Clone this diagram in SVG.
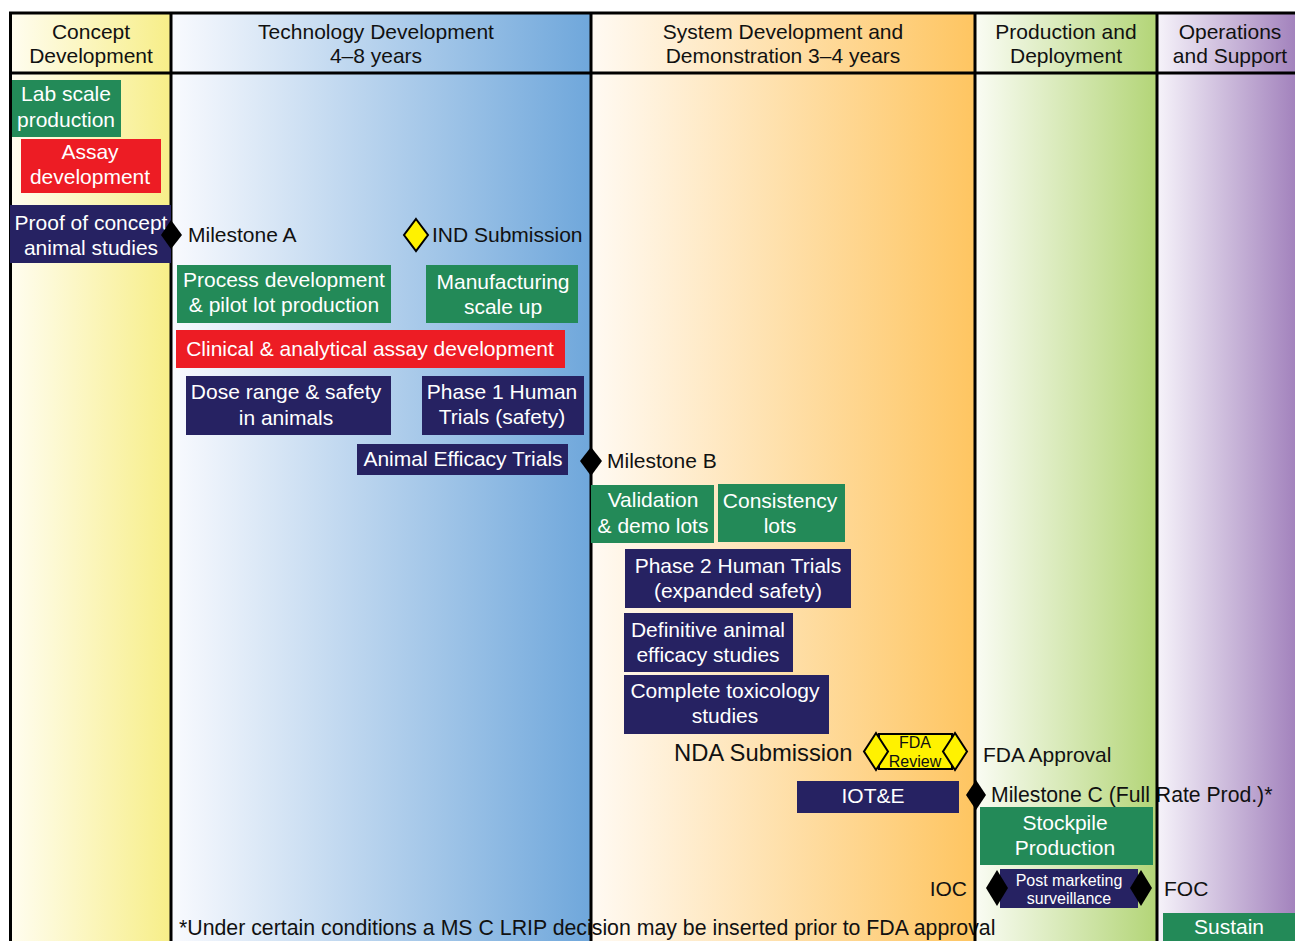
<svg xmlns="http://www.w3.org/2000/svg" width="1295" height="941" viewBox="0 0 1295 941">
<defs>
<linearGradient id="gC" x1="0" y1="0" x2="1" y2="0"><stop offset="0" stop-color="#fffdf0"/><stop offset="1" stop-color="#f7ee88"/></linearGradient>
<linearGradient id="gT" x1="0" y1="0" x2="1" y2="0"><stop offset="0" stop-color="#f9fafe"/><stop offset="1" stop-color="#6fa7db"/></linearGradient>
<linearGradient id="gS" x1="0" y1="0" x2="1" y2="0"><stop offset="0" stop-color="#fffaf3"/><stop offset="1" stop-color="#fec561"/></linearGradient>
<linearGradient id="gP" x1="0" y1="0" x2="1" y2="0"><stop offset="0" stop-color="#fafcf4"/><stop offset="1" stop-color="#b3d577"/></linearGradient>
<linearGradient id="gO" x1="0" y1="0" x2="1" y2="0"><stop offset="0" stop-color="#f6f3fa"/><stop offset="1" stop-color="#a383bd"/></linearGradient>
</defs>
<style>
text{font-family:"Liberation Sans",Arial,sans-serif;font-size:21px;fill:#111}
.c{text-anchor:middle}
.w{fill:#fff}
.g{fill:#238a58}
.r{fill:#ed1c24}
.n{fill:#262262}
.line{stroke:#000;stroke-width:3;fill:none}
.dk{fill:#000}
.dy{fill:#fff200;stroke:#000;stroke-width:2}
.sm{font-size:16px}
</style>
<g id="columns">
<rect x="10" y="12" width="161" height="929" fill="url(#gC)"/>
<rect x="171" y="12" width="420" height="929" fill="url(#gT)"/>
<rect x="591" y="12" width="384" height="929" fill="url(#gS)"/>
<rect x="975" y="12" width="182" height="929" fill="url(#gP)"/>
<rect x="1157" y="12" width="138" height="929" fill="url(#gO)"/>
</g>
<g id="headers">
<text class="c" x="91" y="39">Concept</text><text class="c" x="91" y="63">Development</text>
<text class="c" x="376" y="39">Technology Development</text><text class="c" x="376" y="63">4–8 years</text>
<text class="c" x="783" y="39">System Development and</text><text class="c" x="783" y="63">Demonstration 3–4 years</text>
<text class="c" x="1066" y="39">Production and</text><text class="c" x="1066" y="63">Deployment</text>
<text class="c" x="1230" y="39">Operations</text><text class="c" x="1230" y="63">and Support</text>
</g>
<g id="labels">
<text x="188" y="242">Milestone A</text>
<text x="432" y="242">IND Submission</text>
<text x="607" y="468">Milestone B</text>
<text x="674" y="761" style="font-size:23.8px">NDA Submission</text>
<text x="983" y="762">FDA Approval</text>
<text x="991" y="802" style="font-size:21.2px">Milestone C (Full Rate Prod.)*</text>
<text x="967" y="896" style="text-anchor:end">IOC</text>
<text x="1164" y="896">FOC</text>
<text x="179" y="935" style="font-size:21.3px">*Under certain conditions a MS C LRIP decision may be inserted prior to FDA approval</text>
</g>
<g id="connectors">
<line class="line" x1="9" y1="13" x2="1295" y2="13"/>
<line class="line" x1="9" y1="73" x2="1295" y2="73"/>
<line class="line" x1="10.5" y1="12" x2="10.5" y2="941"/>
<line class="line" x1="171" y1="12" x2="171" y2="941"/>
<line class="line" x1="591" y1="12" x2="591" y2="941"/>
<line class="line" x1="975" y1="12" x2="975" y2="941"/>
<line class="line" x1="1157" y1="12" x2="1157" y2="941"/>
</g>
<g id="lab-scale"><rect class="g" x="12" y="80" width="109" height="57"/><text class="c w" x="66" y="101">Lab scale</text><text class="c w" x="66" y="127">production</text></g>
<g id="assay"><rect class="r" x="21" y="139" width="140" height="54"/><text class="c w" x="90" y="159">Assay</text><text class="c w" x="90" y="184">development</text></g>
<g id="proof"><rect class="n" x="10" y="205" width="161" height="58"/><text class="c w" x="91" y="230">Proof of concept</text><text class="c w" x="91" y="255">animal studies</text></g>
<g id="ms-a"><polygon class="dk" points="171,220 182,235 171,249 161,235"/></g>
<g id="ind"><polygon class="dy" points="416,219 428,235 416,251 404,235"/></g>
<g id="process"><rect class="g" x="177" y="265" width="214" height="58"/><text class="c w" x="284" y="287">Process development</text><text class="c w" x="284" y="312">&amp; pilot lot production</text></g>
<g id="mfg"><rect class="g" x="426" y="265" width="152" height="58"/><text class="c w" x="503" y="289">Manufacturing</text><text class="c w" x="503" y="314">scale up</text></g>
<g id="clinical"><rect class="r" x="176" y="330" width="389" height="38"/><text class="c w" x="370" y="356">Clinical &amp; analytical assay development</text></g>
<g id="dose"><rect class="n" x="186" y="376" width="205" height="59"/><text class="c w" x="286" y="399">Dose range &amp; safety</text><text class="c w" x="286" y="425">in animals</text></g>
<g id="phase1"><rect class="n" x="422" y="376" width="162" height="59"/><text class="c w" x="502" y="399">Phase 1 Human</text><text class="c w" x="502" y="424">Trials (safety)</text></g>
<g id="animal-eff"><rect class="n" x="357" y="444" width="211" height="31"/><text class="c w" x="463" y="466">Animal Efficacy Trials</text></g>
<g id="ms-b"><polygon class="dk" points="591,447 602,461 591,476 580,461"/></g>
<g id="validation"><rect class="g" x="591" y="485" width="123" height="58"/><text class="c w" x="653" y="507">Validation</text><text class="c w" x="653" y="533">&amp; demo lots</text></g>
<g id="consistency"><rect class="g" x="718" y="484" width="127" height="58"/><text class="c w" x="780" y="508">Consistency</text><text class="c w" x="780" y="533">lots</text></g>
<g id="phase2"><rect class="n" x="625" y="549" width="226" height="59"/><text class="c w" x="738" y="573">Phase 2 Human Trials</text><text class="c w" x="738" y="598">(expanded safety)</text></g>
<g id="definitive"><rect class="n" x="624" y="613" width="169" height="59"/><text class="c w" x="708" y="637">Definitive animal</text><text class="c w" x="708" y="662">efficacy studies</text></g>
<g id="toxicology"><rect class="n" x="624" y="675" width="205" height="59"/><text class="c w" x="725" y="698">Complete toxicology</text><text class="c w" x="725" y="723">studies</text></g>
<g id="fda-review">
<rect class="dy" x="879" y="734" width="73" height="35"/>
<polygon class="dy" points="876,733 888,751.5 876,770 864,751.5"/>
<polygon class="dy" points="955,733 967,751.5 955,770 943,751.5"/>
<text class="c sm" x="915" y="748">FDA</text><text class="c sm" x="915" y="767">Review</text>
</g>
<g id="iote"><rect class="n" x="797" y="781" width="162" height="32"/><text class="c w" x="873" y="803">IOT&amp;E</text></g>
<g id="ms-c"><polygon class="dk" points="976,780 986,795 976,810 966,795"/></g>
<g id="stockpile"><rect class="g" x="980" y="807" width="173" height="58"/><text class="c w" x="1065" y="830">Stockpile</text><text class="c w" x="1065" y="855">Production</text></g>
<g id="post-marketing">
<rect class="n" x="1000" y="869" width="138" height="39"/>
<polygon class="dk" points="997,870 1008,888 997,906 986,888"/>
<polygon class="dk" points="1141,870 1152,888 1141,906 1130,888"/>
<text class="c w sm" x="1069" y="886">Post marketing</text><text class="c w sm" x="1069" y="904">surveillance</text>
</g>
<g id="sustain"><rect class="g" x="1163" y="913" width="132" height="28"/><text class="c w" x="1229" y="934">Sustain</text></g>
</svg>
